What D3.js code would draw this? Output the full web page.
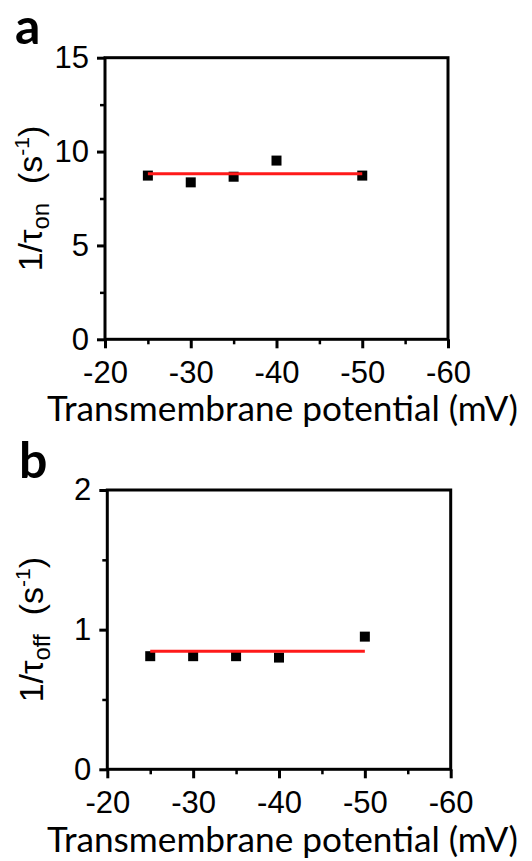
<!DOCTYPE html>
<html>
<head>
<meta charset="utf-8">
<script src="https://cdn.jsdelivr.net/npm/d3@7"></script>
<style>
  body { margin: 0; background: #fff; }
  svg { display: block; }
</style>
</head>
<body>
<svg id="vis" width="532" height="861"></svg>
<script>
// data
var voltages = [-25, -30, -35, -40, -50];
var rateOn = [8.72, 8.36, 8.66, 9.52, 8.72];
var rateOff = [0.81, 0.81, 0.81, 0.80, 0.95];
var fitOn = 8.82;
var fitOff = 0.845;
var xTicks = [-20, -30, -40, -50, -60];
var xMinor = [-25, -35, -45, -55];
var yTicksOn = [0, 5, 10, 15];
var yMinorOn = [2.5, 7.5, 12.5];
var yTicksOff = [0, 1, 2];
var yMinorOff = [0.5, 1.5];

var svg = d3.select("#vis");
var tickFont = "'Liberation Sans', Arial, sans-serif";
var titleFont = "Lato, 'Open Sans', sans-serif";

// plain hyphen for negatives, like the original
function fmt(d){ return String(d); }

function panel(opts){
  var x = d3.scaleLinear().domain([-20, -60]).range([opts.left, opts.right]);
  var y = d3.scaleLinear().domain(opts.yDomain).range([opts.bottom, opts.top]);
  var g = svg.append("g");

  // minor ticks
  g.append("g")
    .attr("transform", "translate(0," + opts.bottom + ")")
    .call(d3.axisBottom(x).tickValues(xMinor).tickSize(5).tickFormat(""))
    .call(function(a){ a.select(".domain").remove(); a.selectAll("line").attr("stroke-width", 2.5); });
  g.append("g")
    .attr("transform", "translate(" + opts.left + ",0)")
    .call(d3.axisLeft(y).tickValues(opts.yMinor).tickSize(5).tickFormat(""))
    .call(function(a){ a.select(".domain").remove(); a.selectAll("line").attr("stroke-width", 2.5); });

  // major ticks + labels
  g.append("g")
    .attr("transform", "translate(0," + opts.bottom + ")")
    .call(d3.axisBottom(x).tickValues(xTicks).tickSize(9).tickPadding(13).tickFormat(fmt))
    .call(function(a){
      a.select(".domain").remove();
      a.selectAll("line").attr("stroke-width", 3);
      a.selectAll("text").attr("font-family", tickFont).attr("font-size", 31).attr("fill", "#000");
    });
  g.append("g")
    .attr("transform", "translate(" + opts.left + ",0)")
    .call(d3.axisLeft(y).tickValues(opts.yTicks).tickSize(8).tickPadding(8).tickFormat(fmt))
    .call(function(a){
      a.select(".domain").remove();
      a.selectAll("line").attr("stroke-width", 3);
      a.selectAll("text").attr("font-family", tickFont).attr("font-size", 31).attr("fill", "#000");
    });

  // frame
  g.append("rect")
    .attr("x", opts.left).attr("y", opts.top)
    .attr("width", opts.right - opts.left).attr("height", opts.bottom - opts.top)
    .attr("fill", "none").attr("stroke", "#000").attr("stroke-width", 3);

  // points
  g.selectAll(".pt")
    .data(opts.values)
    .enter().append("rect")
    .attr("class", "pt")
    .attr("x", function(d, i){ return x(voltages[i]) - 5; })
    .attr("y", function(d){ return y(d) - 5; })
    .attr("width", 10).attr("height", 10)
    .attr("fill", "#000");

  // flat fit line
  g.append("line")
    .attr("x1", x(d3.max(voltages))).attr("x2", x(d3.min(voltages)))
    .attr("y1", y(opts.fit)).attr("y2", y(opts.fit))
    .attr("stroke", "#ff1a1a").attr("stroke-width", 3);

  // y label
  var yl = g.append("text")
    .attr("transform", "translate(" + opts.ylabelX + "," + (opts.top + opts.bottom) / 2 + ") rotate(-90)")
    .attr("text-anchor", "middle")
    .attr("font-family", tickFont).attr("font-size", 34).attr("fill", "#000");
  yl.append("tspan").text("1/\u03c4");
  yl.append("tspan").attr("font-size", 24).attr("dy", 7).text(opts.sub);
  yl.append("tspan").attr("dy", -7).text("\u00a0\u00a0(s");
  yl.append("tspan").attr("font-size", 21).attr("dy", -13).text("-1");
  yl.append("tspan").attr("dy", 13).text(")");

  // x title
  g.append("text")
    .attr("x", 47).attr("y", opts.titleY)
    .attr("font-family", titleFont).attr("font-size", 35).attr("fill", "#000")
    .attr("textLength", 471).attr("lengthAdjust", "spacingAndGlyphs")
    .text("Transmembrane potential (mV)");

  // panel letter
  svg.append("text")
    .attr("x", opts.letterX).attr("y", opts.letterY)
    .attr("font-family", titleFont).attr("font-weight", "bold")
    .attr("font-size", 50).attr("fill", "#000")
    .text(opts.letter);
}

panel({
  left: 105, right: 448, top: 57.7, bottom: 339.3,
  yDomain: [0, 15], yTicks: yTicksOn, yMinor: yMinorOn,
  values: rateOn, fit: fitOn, sub: "on",
  ylabelX: 42, titleY: 421, letter: "a", letterX: 15, letterY: 44
});

panel({
  left: 107.3, right: 450.7, top: 490, bottom: 769.3,
  yDomain: [0, 2], yTicks: yTicksOff, yMinor: yMinorOff,
  values: rateOff, fit: fitOff, sub: "off",
  ylabelX: 43, titleY: 852, letter: "b", letterX: 19, letterY: 478
});
</script>
</body>
</html>
